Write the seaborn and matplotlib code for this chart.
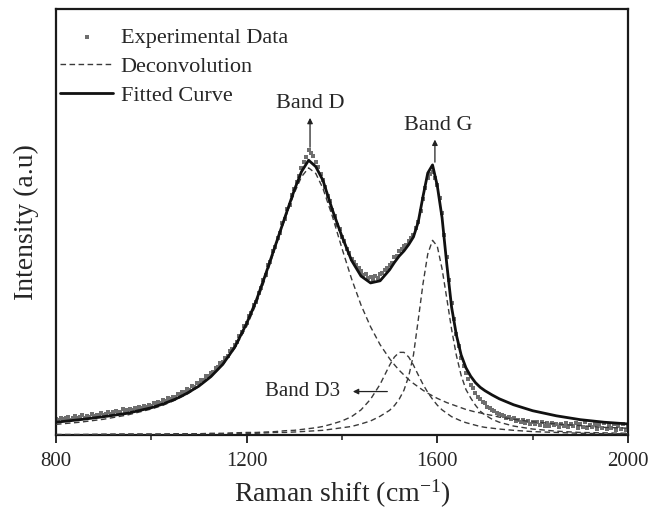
import numpy as np
import pandas as pd
import matplotlib
matplotlib.use("Agg")
import matplotlib.pyplot as plt
import seaborn as sns

# measured spectrum (a.u.), read every 5 cm-1 from 800 to 2000
exp_shift = list(range(800, 2001, 5))
exp_intensity = [
    0.038, 0.035, 0.041, 0.037, 0.039, 0.043, 0.036, 0.040, 0.044, 0.039,
    0.042, 0.046, 0.041, 0.045, 0.043, 0.049, 0.044, 0.047, 0.045, 0.052,
    0.048, 0.050, 0.054, 0.049, 0.053, 0.057, 0.052, 0.055, 0.060, 0.054,
    0.058, 0.062, 0.059, 0.064, 0.061, 0.066, 0.064, 0.068, 0.066, 0.071,
    0.069, 0.074, 0.072, 0.078, 0.075, 0.081, 0.079, 0.086, 0.084, 0.090,
    0.089, 0.096, 0.094, 0.101, 0.100, 0.107, 0.106, 0.114, 0.113, 0.121,
    0.121, 0.128, 0.130, 0.138, 0.139, 0.146, 0.149, 0.158, 0.159, 0.168,
    0.171, 0.181, 0.186, 0.197, 0.201, 0.212, 0.219, 0.233, 0.241, 0.255,
    0.263, 0.279, 0.287, 0.305, 0.313, 0.334, 0.344, 0.365, 0.376, 0.398,
    0.407, 0.431, 0.441, 0.463, 0.474, 0.497, 0.508, 0.530, 0.541, 0.564,
    0.577, 0.595, 0.608, 0.627, 0.641, 0.652, 0.668, 0.661, 0.655, 0.640,
    0.628, 0.612, 0.598, 0.583, 0.562, 0.549, 0.528, 0.514, 0.493, 0.483,
    0.465, 0.455, 0.437, 0.428, 0.414, 0.407, 0.398, 0.391, 0.384, 0.376,
    0.379, 0.369, 0.372, 0.365, 0.374, 0.368, 0.377, 0.380, 0.388, 0.391,
    0.400, 0.404, 0.418, 0.420, 0.433, 0.436, 0.444, 0.447, 0.456, 0.463,
    0.470, 0.486, 0.499, 0.526, 0.553, 0.580, 0.604, 0.612, 0.618, 0.603,
    0.588, 0.556, 0.522, 0.470, 0.418, 0.365, 0.310, 0.272, 0.236, 0.208,
    0.180, 0.163, 0.145, 0.131, 0.118, 0.110, 0.098, 0.090, 0.085, 0.078,
    0.074, 0.066, 0.064, 0.058, 0.057, 0.051, 0.050, 0.046, 0.045, 0.041,
    0.042, 0.037, 0.039, 0.034, 0.036, 0.031, 0.035, 0.029, 0.033, 0.027,
    0.031, 0.025, 0.030, 0.024, 0.031, 0.022, 0.028, 0.021, 0.029, 0.023,
    0.027, 0.019, 0.026, 0.021, 0.028, 0.018, 0.025, 0.020, 0.029, 0.017,
    0.026, 0.019, 0.031, 0.016, 0.024, 0.018, 0.027, 0.014, 0.025, 0.017,
    0.029, 0.013, 0.024, 0.016, 0.027, 0.012, 0.022, 0.015, 0.025, 0.011,
    0.020,
]

# fitted curve and deconvoluted bands
fit_shift = [800, 850, 900, 950, 1000, 1025, 1050, 1075, 1100, 1125, 1150, 1175,
             1200, 1220, 1240, 1260, 1280, 1300, 1315, 1330, 1345, 1360, 1380,
             1400, 1420, 1440, 1460, 1480, 1500, 1510, 1520, 1530, 1540, 1550,
             1560, 1570, 1580, 1590, 1600, 1610, 1620, 1630, 1640, 1650, 1660,
             1670, 1680, 1690, 1700, 1715, 1730, 1760, 1800, 1850, 1900, 1950, 2000]
fitted = [0.030, 0.036, 0.043, 0.051, 0.064, 0.073, 0.084, 0.098, 0.115, 0.137, 0.166, 0.206,
          0.262, 0.315, 0.378, 0.444, 0.510, 0.575, 0.618, 0.645, 0.630, 0.598, 0.528,
          0.466, 0.410, 0.373, 0.357, 0.362, 0.388, 0.405, 0.420, 0.432, 0.447, 0.465,
          0.500, 0.560, 0.615, 0.634, 0.585, 0.510, 0.400, 0.300, 0.235, 0.188, 0.158,
          0.138, 0.123, 0.112, 0.104, 0.094, 0.085, 0.071, 0.057, 0.045, 0.036, 0.030, 0.026]
band_d = [0.025, 0.030, 0.037, 0.047, 0.061, 0.070, 0.082, 0.096, 0.114, 0.137, 0.165, 0.204,
          0.255, 0.308, 0.370, 0.440, 0.506, 0.568, 0.606, 0.627, 0.614, 0.579, 0.513,
          0.438, 0.367, 0.305, 0.254, 0.212, 0.179, 0.165, 0.152, 0.141, 0.130, 0.121,
          0.113, 0.105, 0.098, 0.092, 0.086, 0.081, 0.076, 0.072, 0.068, 0.064, 0.060,
          0.057, 0.054, 0.052, 0.049, 0.046, 0.042, 0.037, 0.031, 0.026, 0.022, 0.018, 0.016]
band_d3 = [0.001, 0.001, 0.002, 0.002, 0.002, 0.002, 0.003, 0.003, 0.003, 0.004, 0.004, 0.005,
           0.006, 0.006, 0.007, 0.008, 0.010, 0.011, 0.013, 0.015, 0.017, 0.020, 0.026,
           0.033, 0.043, 0.059, 0.084, 0.119, 0.164, 0.183, 0.194, 0.194, 0.183, 0.164,
           0.141, 0.119, 0.100, 0.084, 0.070, 0.059, 0.051, 0.043, 0.038, 0.033, 0.029,
           0.026, 0.023, 0.020, 0.018, 0.016, 0.014, 0.011, 0.008, 0.006, 0.004, 0.003, 0.003]
band_g = [0.001, 0.001, 0.001, 0.002, 0.002, 0.002, 0.002, 0.002, 0.003, 0.003, 0.003, 0.004,
          0.004, 0.004, 0.005, 0.006, 0.006, 0.007, 0.008, 0.009, 0.010, 0.011, 0.014,
          0.017, 0.020, 0.026, 0.033, 0.044, 0.058, 0.069, 0.084, 0.105, 0.138, 0.188,
          0.270, 0.355, 0.425, 0.457, 0.443, 0.390, 0.320, 0.248, 0.187, 0.140, 0.107,
          0.087, 0.070, 0.056, 0.047, 0.037, 0.030, 0.021, 0.014, 0.009, 0.006, 0.005, 0.004]

major_ticks = [800, 1200, 1600, 2000]
minor_ticks = [1000, 1400, 1800]

sns.set_style("ticks")
plt.rcParams["font.family"] = ["Liberation Serif"]
plt.rcParams["mathtext.fontset"] = "custom"
plt.rcParams["mathtext.rm"] = "Liberation Serif"
plt.rcParams["mathtext.it"] = "Liberation Serif:italic"

exp_df = pd.DataFrame({"shift": exp_shift, "intensity": exp_intensity})
curves = pd.DataFrame({"shift": fit_shift, "fit": fitted, "D": band_d,
                       "D3": band_d3, "G": band_g})

fig, ax = plt.subplots(figsize=(6.51, 5.17), dpi=100)
ax.set_position([0.086, 0.1586, 0.8786, 0.824])

sns.scatterplot(data=exp_df, x="shift", y="intensity", ax=ax, color="#6e6e6e",
                marker="s", s=6, linewidth=0, label="Experimental Data", zorder=2)
dash = (0, (4, 2.5))
sns.lineplot(data=curves, x="shift", y="D", ax=ax, color="#3a3a3a", lw=1.0,
             linestyle=dash, label="Deconvolution", zorder=3)
sns.lineplot(data=curves, x="shift", y="D3", ax=ax, color="#3a3a3a", lw=1.0,
             linestyle=dash, zorder=3)
sns.lineplot(data=curves, x="shift", y="G", ax=ax, color="#3a3a3a", lw=1.0,
             linestyle=dash, zorder=3)
sns.lineplot(data=curves, x="shift", y="fit", ax=ax, color="#111111", lw=2.0,
             label="Fitted Curve", zorder=4)

# band labels
arrow = dict(arrowstyle="-|>", color="#222222", lw=0.9, mutation_scale=8)
ax.annotate("", xy=(1333, 0.751), xytext=(1333, 0.669), arrowprops=arrow)
ax.text(1333, 0.768, "Band D", ha="center", va="baseline", fontsize=16)
ax.annotate("", xy=(1595, 0.700), xytext=(1595, 0.634), arrowprops=arrow)
ax.text(1601, 0.716, "Band G", ha="center", va="baseline", fontsize=16)
ax.annotate("", xy=(1417, 0.102), xytext=(1501, 0.102), arrowprops=arrow)
ax.text(1396, 0.102, "Band D3", ha="right", va="center", fontsize=15)

ax.set_xlim(800, 2000)
ax.set_ylim(0, 1)
ax.set_xticks(major_ticks)
ax.set_xticks(minor_ticks, minor=True)
ax.set_yticks([])
ax.tick_params(axis="x", which="major", direction="out", length=6, width=1.3,
               labelsize=15, pad=6, color="#1a1a1a")
ax.tick_params(axis="x", which="minor", direction="out", length=3.5, width=1.1,
               color="#1a1a1a")
for sp in ax.spines.values():
    sp.set_linewidth(1.6)
    sp.set_color("#1a1a1a")

ax.set_xlabel(r"Raman shift (cm$^{-1}$)", fontsize=20, labelpad=5)
ax.set_ylabel("Intensity (a.u)", fontsize=20, labelpad=12)

ax.legend(loc="upper left", bbox_to_anchor=(0.0, 0.968), frameon=False, fontsize=16,
          handlelength=2.36, handletextpad=0.36, labelspacing=0.38,
          borderaxespad=0.0, borderpad=0.2)

plt.savefig("out.png", dpi=100)
